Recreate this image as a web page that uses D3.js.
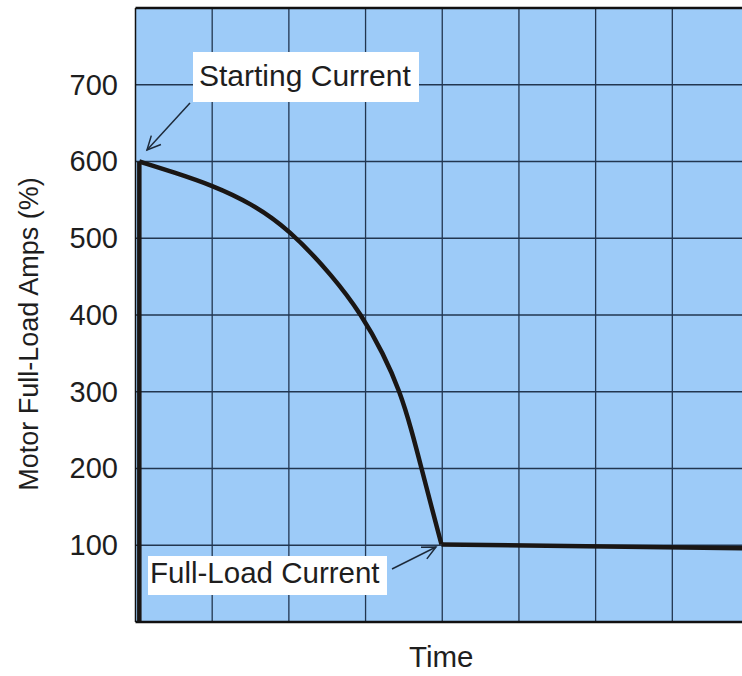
<!DOCTYPE html>
<html>
<head>
<meta charset="utf-8">
<script src="https://cdn.jsdelivr.net/npm/d3@7"></script>
<style>
  html, body { margin: 0; padding: 0; background: #fff; }
  svg { display: block; }
  text { font-family: "Liberation Sans", Arial, Helvetica, sans-serif; fill: #1e1e1e; }
</style>
</head>
<body>
<div id="chart"></div>
<script>
// ---- data ----
const timeValues    = [0.05, 0.5, 1.0, 1.5, 2.0, 2.58, 2.95, 3.23, 3.45, 3.60, 3.73, 3.86, 3.99];
const currentValues = [600,  586, 569, 546, 512, 450,  400,  350,  300,  250,  200,  150,  101];
const riseTime      = [0.05, 0.05];
const riseCurrent   = [0, 600];
const flatTime      = [3.99, 8.0];
const flatCurrent   = [101,  96];
const yTicks        = [100, 200, 300, 400, 500, 600, 700];
const xGrid         = [1, 2, 3, 4, 5, 6, 7];
const yLabel        = "Motor Full-Load Amps (%)";
const xLabel        = "Time";
const noteStart     = "Starting Current";
const noteFull      = "Full-Load Current";

const W = 742, H = 676;
const svg = d3.select("#chart").append("svg").attr("width", W).attr("height", H);

const x = d3.scaleLinear().domain([0, 8]).range([135.5, 749]);
const y = d3.scaleLinear().domain([0, 800]).range([622, 8]);

svg.append("defs").append("clipPath").attr("id", "clip")
  .append("rect").attr("x", x(0)).attr("y", y(800)).attr("width", W - x(0)).attr("height", y(0) - y(800));

const plot = svg.append("g").attr("clip-path", "url(#clip)");
plot.append("rect").attr("x", x(0)).attr("y", y(800))
  .attr("width", x(8) - x(0)).attr("height", y(0) - y(800)).attr("fill", "#9dcbf8");

// grid
plot.selectAll("line.vg").data(xGrid).join("line").attr("class", "vg")
  .attr("x1", d => x(d)).attr("x2", d => x(d)).attr("y1", y(0)).attr("y2", y(800))
  .attr("stroke", "#223650").attr("stroke-width", 1.3);
plot.selectAll("line.hg").data(yTicks).join("line").attr("class", "hg")
  .attr("x1", x(0)).attr("x2", x(8)).attr("y1", d => y(d)).attr("y2", d => y(d))
  .attr("stroke", "#223650").attr("stroke-width", 1.3);

// frame
svg.append("line").attr("x1", x(0)).attr("x2", W).attr("y1", y(800)).attr("y2", y(800))
  .attr("stroke", "#111").attr("stroke-width", 2.5);
svg.append("line").attr("x1", x(0)).attr("x2", W).attr("y1", y(0)).attr("y2", y(0))
  .attr("stroke", "#111").attr("stroke-width", 2.5);
svg.append("line").attr("x1", x(0)).attr("x2", x(0)).attr("y1", y(0)).attr("y2", y(800))
  .attr("stroke", "#111").attr("stroke-width", 1.5);

// curve
const lineFn = d3.line().x(d => x(d[0])).y(d => y(d[1]));
plot.append("path").datum(riseTime.map((t, i) => [t, riseCurrent[i]]))
  .attr("d", lineFn).attr("fill", "none").attr("stroke", "#1a1614").attr("stroke-width", 4.5);
plot.append("path").datum(timeValues.map((t, i) => [t, currentValues[i]]))
  .attr("d", d3.line().x(d => x(d[0])).y(d => y(d[1])).curve(d3.curveBasis))
  .attr("fill", "none").attr("stroke", "#1a1614").attr("stroke-width", 4.5).attr("stroke-linejoin", "round");
plot.append("path").datum(flatTime.map((t, i) => [t, flatCurrent[i]]))
  .attr("d", lineFn).attr("fill", "none").attr("stroke", "#1a1614").attr("stroke-width", 4.5);

// y axis
const yAxis = d3.axisLeft(y).tickValues(yTicks).tickSize(0).tickPadding(0);
const ga = svg.append("g").attr("transform", "translate(118,0)").call(yAxis);
ga.select(".domain").remove();
ga.selectAll("text").attr("font-size", 29).attr("fill", "#2a2a2a")
  .style("font-family", '"Liberation Sans", Arial, sans-serif');

// axis titles
svg.append("text").attr("x", x(4) - 1).attr("y", 667).attr("text-anchor", "middle")
  .attr("font-size", 29.5).attr("fill", "#2a2a2a").text(xLabel);
svg.append("text").attr("transform", "translate(38,334) rotate(-90)")
  .attr("text-anchor", "middle").attr("font-size", 27).attr("fill", "#2a2a2a").text(yLabel);

// annotations
function arrow(x1, y1, x2, y2) {
  svg.append("line").attr("x1", x1).attr("y1", y1).attr("x2", x2).attr("y2", y2)
    .attr("stroke", "#1d2a3a").attr("stroke-width", 1.5);
  const a = Math.atan2(y1 - y2, x1 - x2), L = 15, s = 0.45;
  svg.append("path").attr("d",
    `M${x2 + L * Math.cos(a + s)},${y2 + L * Math.sin(a + s)} L${x2},${y2} L${x2 + L * Math.cos(a - s)},${y2 + L * Math.sin(a - s)}`)
    .attr("fill", "none").attr("stroke", "#1d2a3a").attr("stroke-width", 1.5);
}
svg.append("rect").attr("x", 193).attr("y", 52).attr("width", 226).attr("height", 50).attr("fill", "#fff");
svg.append("text").attr("x", 199).attr("y", 86).attr("font-size", 30).attr("fill", "#111").text(noteStart);
arrow(190, 103, 147, 150);

svg.append("rect").attr("x", 148).attr("y", 556).attr("width", 239).attr("height", 39).attr("fill", "#fff");
svg.append("text").attr("x", 150).attr("y", 583).attr("font-size", 29.5).attr("fill", "#111").text(noteFull);
arrow(392, 569, 436, 547);
</script>
</body>
</html>
